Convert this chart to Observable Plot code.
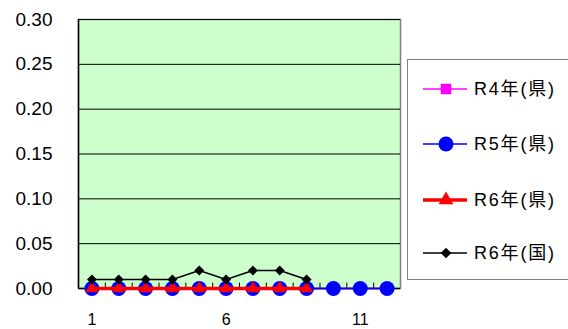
<!DOCTYPE html>
<html><head><meta charset="utf-8">
<script src="https://cdn.jsdelivr.net/npm/d3@7"></script>
<script src="https://cdn.jsdelivr.net/npm/@observablehq/plot@0.6"></script>
<style>
body{margin:0;background:#fff;}
#wrap{position:relative;width:568px;height:329px;overflow:hidden;}
#legend{position:absolute;left:407px;top:59px;width:170px;height:221px;border:1px solid #808080;box-sizing:border-box;background:#fff;font-family:"Liberation Sans",Arial,"Noto Sans CJK JP",sans-serif;font-size:18px;letter-spacing:1.8px;color:#000;}
.row{position:absolute;left:14px;height:20px;line-height:20px;display:flex;align-items:center;}
.row svg{display:block;}
.row span{margin-left:6px;white-space:nowrap;}
</style></head>
<body><div id="wrap"><div id="legend"></div></div>
<script>
const months = [1,2,3,4,5,6,7,8,9,10,11,12];
const r4Ken = [0,0,0,0,0,0,0,0,0,0,0,0];
const r5Ken = [0,0,0,0,0,0,0,0,0,0,0,0];
const r6Ken = [0,0,0,0,0,0,0,0,0];
const r6Kuni = [0.01,0.01,0.01,0.01,0.02,0.01,0.02,0.02,0.01];
const yTicks = [0,0.05,0.10,0.15,0.20,0.25,0.30];
const xTickLabels = [1,6,11];
const seriesNames = ["R4年(県)","R5年(県)","R6年(県)","R6年(国)"];

const toRows = arr => arr.map((v,i)=>({m: months[i], v}));
const boundaries = months.slice(0,-1).map(m=>m+0.5);

const chart = Plot.plot({
  width: 568, height: 329,
  marginLeft: 78, marginRight: 168, marginTop: 19, marginBottom: 41,
  style: {fontFamily: "'Liberation Sans', Arial, sans-serif", background: "transparent"},
  x: {domain: [0.5, 12.5]},
  y: {domain: [0, 0.30]},
  marks: [
    Plot.frame({fill: "#CCFFCC", stroke: "#808080", strokeWidth: 1.5}),
    Plot.gridY(yTicks, {stroke: "#000", strokeOpacity: 1, strokeWidth: 1}),
    Plot.ruleX(boundaries, {x: d=>d, y1: 0, y2: 0.006, stroke: "#000", strokeWidth: 1}),
    Plot.ruleX([0.5], {stroke: "#000", strokeWidth: 1.5}),
    Plot.ruleY([0], {stroke: "#000", strokeWidth: 1.5}),
    Plot.axisY(yTicks, {tickSize: 0, tickPadding: 26, tickFormat: d=>d.toFixed(2), fontSize: 19, letterSpacing: 1, label: null}),
    Plot.axisX(xTickLabels, {tickSize: 0, tickPadding: 25, fontSize: 16, label: null}),
    Plot.line(toRows(r4Ken), {x: "m", y: "v", stroke: "#FF00FF", strokeWidth: 1.5}),
    Plot.dot(toRows(r4Ken), {x: "m", y: "v", symbol: "square", fill: "#FF00FF", r: 5}),
    Plot.line(toRows(r5Ken), {x: "m", y: "v", stroke: "#0000FF", strokeWidth: 1.5}),
    Plot.dot(toRows(r5Ken), {x: "m", y: "v", symbol: "circle", fill: "#0000FF", r: 7.5}),
    Plot.line(toRows(r6Ken), {x: "m", y: "v", stroke: "#FF0000", strokeWidth: 3.5}),
    Plot.dot(toRows(r6Ken), {x: "m", y: "v", symbol: "triangle", fill: "#FF0000", r: 4.8}),
    Plot.line(toRows(r6Kuni), {x: "m", y: "v", stroke: "#000", strokeWidth: 1.5}),
    Plot.dot(toRows(r6Kuni), {x: "m", y: "v", symbol: "diamond2", fill: "#000", r: 4.5})
  ]
});
document.getElementById("wrap").prepend(chart);
chart.style.position = "absolute"; chart.style.left = "0"; chart.style.top = "0";

// legend
const styles = [
  {color:"#FF00FF", w:1.5, sym:"square", area:110},
  {color:"#0000FF", w:1.5, sym:"circle", area:Math.PI*7.5*7.5},
  {color:"#FF0000", w:3.5, sym:"triangle", area:Math.PI*5.5*5.5},
  {color:"#000000", w:1.5, sym:"diamond2", area:Math.PI*4.8*4.8}
];
const symMap = {square:d3.symbolSquare, circle:d3.symbolCircle, triangle:d3.symbolTriangle, diamond2:d3.symbolDiamond2};
const leg = document.getElementById("legend");
const rowCenters = [29, 84, 140, 193];
seriesNames.forEach((name,i)=>{
  const s = styles[i];
  const row = document.createElement("div");
  row.className = "row";
  row.style.top = (rowCenters[i]-10) + "px";
  const sw = d3.create("svg").attr("width",46).attr("height",20);
  sw.append("line").attr("x1",1).attr("x2",45).attr("y1",10).attr("y2",10).attr("stroke",s.color).attr("stroke-width",s.w);
  sw.append("path").attr("transform","translate(24,10)").attr("fill",s.color)
    .attr("d", d3.symbol(symMap[s.sym], s.area)());
  row.appendChild(sw.node());
  const t = document.createElement("span"); t.textContent = name; row.appendChild(t);
  leg.appendChild(row);
});
</script></body></html>
